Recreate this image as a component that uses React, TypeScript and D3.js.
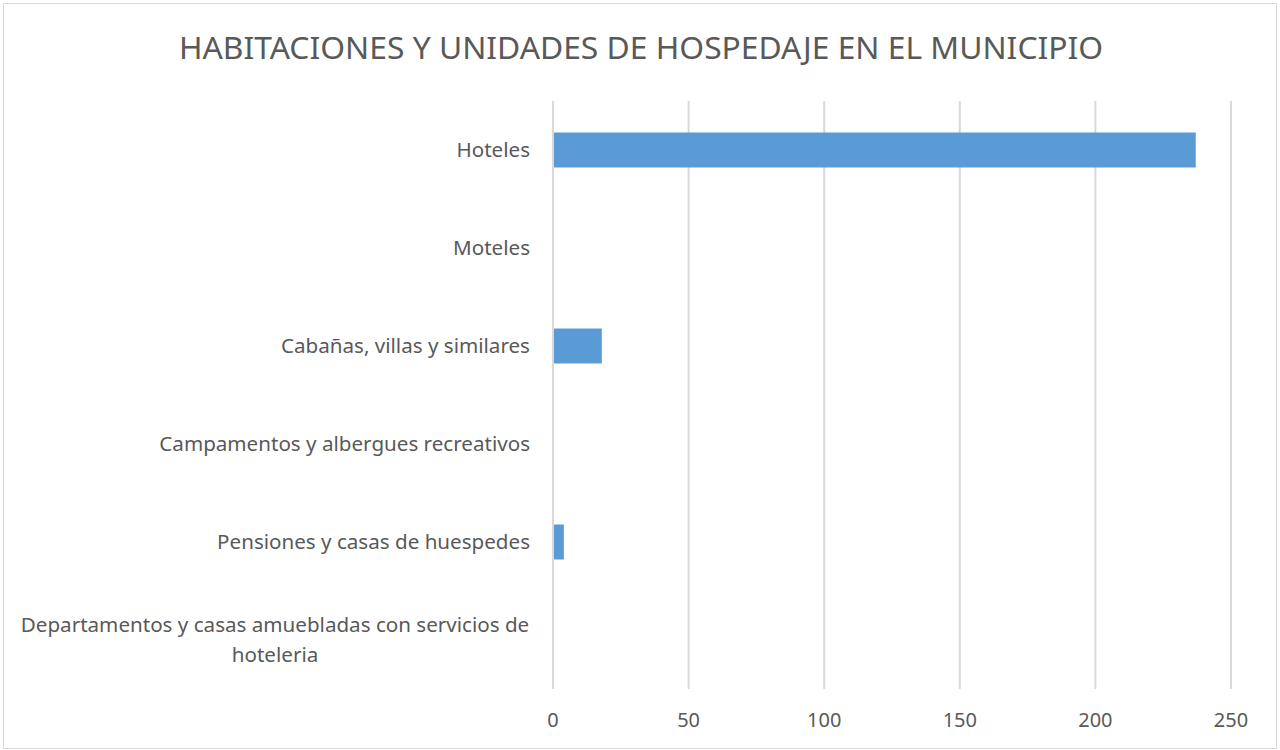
import React from "react";
import * as d3 from "d3";

// categories top to bottom
const categories = [
  "Hoteles",
  "Moteles",
  "Cabañas, villas y similares",
  "Campamentos y albergues recreativos",
  "Pensiones y casas de huespedes",
  "Departamentos y casas amuebladas con servicios de hoteleria",
];
const values = [237, 0, 18, 0, 4, 0];
const xTicks = [0, 50, 100, 150, 200, 250];
const title = "HABITACIONES Y UNIDADES DE HOSPEDAJE EN EL MUNICIPIO";

// wrapped label lines as in the original
const labelLines: Record<string, string[]> = {
  "Departamentos y casas amuebladas con servicios de hoteleria": [
    "Departamentos y casas amuebladas con servicios de",
    "hoteleria",
  ],
};

export default function App() {
  const width = 1280;
  const height = 750;
  const margin = { top: 101, right: 49, bottom: 61, left: 553 };
  const font = "'Noto Sans', 'Open Sans', sans-serif";
  const textColor = "#595959";

  const x = d3
    .scaleLinear()
    .domain([0, 250])
    .range([margin.left, width - margin.right]);

  const y = d3
    .scaleBand()
    .domain(categories)
    .range([margin.top, height - margin.bottom])
    .paddingInner(0.643)
    .paddingOuter(0.3215);

  return (
    <svg
      width={width}
      height={height}
      style={{ position: "absolute", left: 0, top: 0, background: "#fff" }}
      fontFamily={font}
    >
      <rect x={3.5} y={3.5} width={width - 7} height={height - 5} fill="#fff" stroke="#d9d9d9" />

      <text
        x={641}
        y={48}
        textAnchor="middle"
        dy="0.35em"
        fontSize={31.8}
        fill={textColor}
      >
        {title}
      </text>

      {/* gridlines */}
      {xTicks.map((t) => (
        <line
          key={t}
          x1={x(t)}
          x2={x(t)}
          y1={margin.top}
          y2={height - margin.bottom}
          stroke="#d9d9d9"
          strokeWidth={2}
        />
      ))}

      {/* bars */}
      {categories.map((c, i) =>
        values[i] > 0 ? (
          <rect
            key={c}
            x={x(0) + 1}
            y={y(c)}
            width={x(values[i]) - x(0) - 1}
            height={y.bandwidth()}
            fill="#5b9bd5"
          />
        ) : null
      )}

      {/* category labels */}
      {categories.map((c) => {
        const lines = labelLines[c] || [c];
        const cy = (y(c) || 0) + y.bandwidth() / 2;
        const lh = 30;
        if (lines.length === 1) {
          return (
            <text
              key={c}
              x={530}
              y={cy}
              dy="0.35em"
              textAnchor="end"
              fontSize={20.6}
              fill={textColor}
            >
              {c}
            </text>
          );
        }
        return (
          <text key={c} fontSize={20.6} fill={textColor} textAnchor="middle">
            {lines.map((l, j) => (
              <tspan
                key={j}
                x={275}
                y={cy + (j - (lines.length - 1) / 2) * lh}
                dy="0.35em"
              >
                {l}
              </tspan>
            ))}
          </text>
        );
      })}

      {/* x tick labels */}
      {xTicks.map((t) => (
        <text
          key={t}
          x={x(t)}
          y={720}
          dy="0.35em"
          textAnchor="middle"
          fontSize={20}
          fill={textColor}
        >
          {t}
        </text>
      ))}
    </svg>
  );
}
